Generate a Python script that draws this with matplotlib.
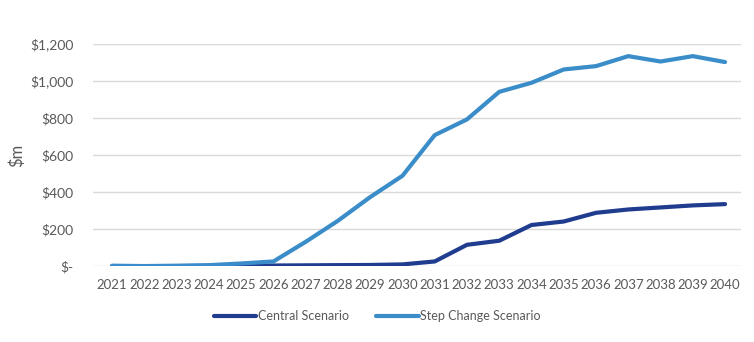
import matplotlib.pyplot as plt
from matplotlib.ticker import FuncFormatter

plt.rcParams['font.family'] = ['Lato', 'DejaVu Sans']

years = list(range(2021, 2041))
central = [0, 0, 0, 1, 2, 3, 4, 5, 6, 9, 25, 115, 137, 222, 241, 288, 306, 317, 328, 335]
step_change = [2, 0, 2, 5, 14, 25, 131, 245, 373, 488, 708, 793, 942, 991, 1063, 1081, 1135, 1106, 1135, 1103]

text_grey = '#595959'

fig = plt.figure(figsize=(7.54, 3.42), dpi=100)
ax = fig.add_axes([0.123, 0.222, 0.86, 0.649])

ax.plot(years, central, color='#1f3c8f', lw=3, solid_capstyle='round', label='Central Scenario')
ax.plot(years, step_change, color='#3a8dc8', lw=3, solid_capstyle='round', label='Step Change Scenario')

ax.set_xlim(2020.4, 2040.5)
ax.set_ylim(0, 1200)
ax.set_yticks(range(0, 1201, 200))
ax.set_xticks(years)
ax.yaxis.set_major_formatter(FuncFormatter(lambda v, p: '$-' if v == 0 else f'${v:,.0f}'))
ax.grid(axis='y', color='#d9d9d9', lw=1)
ax.set_axisbelow(True)
for s in ax.spines.values():
    s.set_visible(False)
ax.tick_params(length=0, labelsize=9.5, colors=text_grey)
ax.tick_params(axis='x', pad=9)
ax.tick_params(axis='y', pad=14, labelsize=10)

ax.set_ylabel('$m', fontsize=12, color=text_grey)
ax.yaxis.set_label_coords(-0.105, 0.5)

fig.legend(loc='center', bbox_to_anchor=(0.5, 0.075), ncol=2, frameon=False,
           fontsize=9, labelcolor=text_grey, handlelength=3.4, handletextpad=0.1,
           columnspacing=2.2)

fig.savefig('out.png', dpi=100)
